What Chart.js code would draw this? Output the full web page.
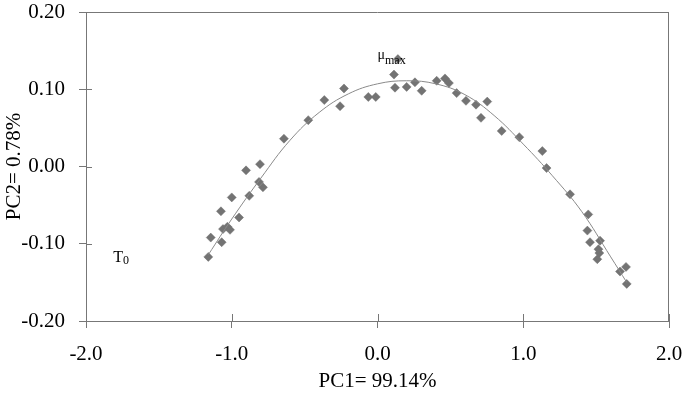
<!DOCTYPE html>
<html>
<head>
<meta charset="utf-8">
<script src="https://cdn.jsdelivr.net/npm/chart.js@4"></script>
<style>
  html, body { margin: 0; padding: 0; background: #fff; }
  #chart { display: block; }
</style>
</head>
<body>
<canvas id="chart" width="684" height="396"></canvas>
<script>
'use strict';

// ===== データ =====
const pc1 = [
  -1.161, -1.144, -1.069, -1.060, -1.030, -1.012, -1.074, -1.000, -0.950, -0.880,
  -0.902, -0.806, -0.813, -0.786, -0.642, -0.475, -0.365, -0.257, -0.230, -0.063,
  -0.012,  0.113,  0.140,  0.120,  0.200,  0.257,  0.303,  0.406,  0.463,  0.490,
   0.543,  0.607,  0.676,  0.753,  0.710,  0.852,  0.973,  1.131,  1.160,  1.321,
   1.446,  1.440,  1.458,  1.527,  1.522,  1.508,  1.516,  1.664,  1.705,  1.710,
];
const pc2 = [
  -0.117, -0.092, -0.098, -0.081, -0.078, -0.082, -0.058, -0.040, -0.066, -0.038,
  -0.005,  0.003, -0.020, -0.027,  0.036,  0.060,  0.086,  0.078,  0.101,  0.090,
   0.090,  0.119,  0.139,  0.102,  0.103,  0.109,  0.098,  0.111,  0.114,  0.108,
   0.095,  0.085,  0.080,  0.084,  0.063,  0.046,  0.038,  0.020, -0.002, -0.036,
  -0.062, -0.083, -0.098, -0.096, -0.112, -0.120, -0.107, -0.136, -0.130, -0.152,
];

// 近似曲線（図の線上で読んだ点）
const trendX = [-1.16, -1.0, -0.8, -0.6, -0.4, -0.2, 0.0, 0.2, 0.4, 0.6, 0.8, 1.0, 1.2, 1.4, 1.6, 1.71];
const trendY = [-0.114, -0.068, -0.015, 0.034, 0.070, 0.094, 0.107, 0.111, 0.107, 0.093,
                0.066, 0.029, -0.012, -0.058, -0.117, -0.150];

// 目盛り
const xTickValues = [-2, -1, 0, 1, 2];
const xTickLabels = ['-2.0', '-1.0', '0.0', '1.0', '2.0'];
const yTickValues = [-0.2, -0.1, 0, 0.1, 0.2];
const yTickLabels = ['-0.20', '-0.10', '0.00', '0.10', '0.20'];

// 注記（ラベル, 添字, 位置）
const notes = [
  { main: 'μ', sub: 'max', x: 0.0,   y: 0.1397 },
  { main: 'T', sub: '0',   x: -1.813, y: -0.123 },
];

// ===== スタイル =====
const FONT = "'Liberation Serif', 'Times New Roman', serif";
const AXIS_COLOR = '#777';
const MARKER_COLOR = '#737373';

const toPoints = (xs, ys) => xs.map((x, i) => ({ x: x, y: ys[i] }));

// ラベルはみ出し分の余白を付けない
function noScalePadding(s) {
  s.paddingTop = 0;
  s.paddingBottom = 0;
  s.paddingLeft = 0;
  s.paddingRight = 0;
}

// 枠線・内向き目盛り・注記
const framePlugin = {
  id: 'frame',
  afterDatasetsDraw(chart) {
    const { ctx, chartArea: a, scales: { x, y } } = chart;
    ctx.save();
    ctx.strokeStyle = AXIS_COLOR;
    ctx.lineWidth = 1;
    ctx.beginPath();
    ctx.moveTo(a.left, a.top + 0.5);
    ctx.lineTo(a.right, a.top + 0.5);
    ctx.moveTo(a.right - 0.5, a.top);
    ctx.lineTo(a.right - 0.5, a.bottom);
    xTickValues.forEach(v => {
      const px = Math.round(x.getPixelForValue(v)) + 0.5;
      ctx.moveTo(px, a.bottom);
      ctx.lineTo(px, a.bottom - 7);
    });
    yTickValues.forEach(v => {
      const py = Math.round(y.getPixelForValue(v)) + 0.5;
      ctx.moveTo(a.left, py);
      ctx.lineTo(a.left + 6, py);
    });
    ctx.stroke();

    ctx.fillStyle = '#000';
    ctx.textBaseline = 'alphabetic';
    ctx.textAlign = 'left';
    notes.forEach(n => {
      const px = x.getPixelForValue(n.x);
      const py = y.getPixelForValue(n.y);
      ctx.font = (n.main === 'μ' ? '14px ' : '16px ') + FONT;
      ctx.fillText(n.main, px, py);
      const w = ctx.measureText(n.main).width;
      ctx.font = '12px ' + FONT;
      ctx.fillText(n.sub, px + w, py + (n.main === 'μ' ? 5.5 : 2));
    });
    ctx.restore();
  },
};

new Chart(document.getElementById('chart'), {
  type: 'scatter',
  data: {
    datasets: [
      {
        type: 'line',
        data: toPoints(trendX, trendY),
        borderColor: '#8a8a8a',
        borderWidth: 1,
        pointRadius: 0,
        fill: false,
        tension: 0.4,
        order: 0,
      },
      {
        data: toPoints(pc1, pc2),
        pointStyle: 'rectRot',
        pointRadius: 4.5,
        pointBackgroundColor: MARKER_COLOR,
        pointBorderColor: MARKER_COLOR,
        pointBorderWidth: 0.5,
        order: 1,
      },
    ],
  },
  options: {
    responsive: false,
    devicePixelRatio: 1,
    animation: false,
    layout: { padding: { top: 12, right: 15, bottom: 0, left: 0 } },
    plugins: {
      legend: { display: false },
      tooltip: { enabled: false },
    },
    scales: {
      x: {
        type: 'linear',
        position: 'bottom',
        min: -2,
        max: 2,
        afterBuildTicks: s => { s.ticks = xTickValues.map(v => ({ value: v })); },
        afterFit: s => { s.height = 75; noScalePadding(s); },
        border: { color: AXIS_COLOR, width: 1 },
        grid: { drawOnChartArea: false, drawTicks: true, tickLength: 7, color: AXIS_COLOR },
        ticks: {
          padding: 14,
          maxRotation: 0,
          color: '#000',
          font: { family: FONT, size: 21 },
          callback: v => xTickLabels[xTickValues.indexOf(v)],
        },
        title: {
          display: true,
          text: 'PC1= 99.14%',
          color: '#000',
          font: { family: FONT, size: 21 },
          padding: { top: 0, bottom: 2 },
        },
      },
      y: {
        type: 'linear',
        min: -0.2,
        max: 0.2,
        afterBuildTicks: s => { s.ticks = yTickValues.map(v => ({ value: v })); },
        afterFit: s => { s.width = 86; noScalePadding(s); },
        border: { color: AXIS_COLOR, width: 1 },
        grid: { drawOnChartArea: false, drawTicks: true, tickLength: 7, color: AXIS_COLOR },
        ticks: {
          padding: 14,
          color: '#000',
          font: { family: FONT, size: 21 },
          callback: v => yTickLabels[yTickValues.findIndex(t => Math.abs(t - v) < 1e-9)],
        },
        title: {
          display: true,
          text: 'PC2= 0.78%',
          color: '#000',
          font: { family: FONT, size: 21 },
          padding: { top: 2, bottom: 0 },
        },
      },
    },
  },
  plugins: [framePlugin],
});
</script>
</body>
</html>
